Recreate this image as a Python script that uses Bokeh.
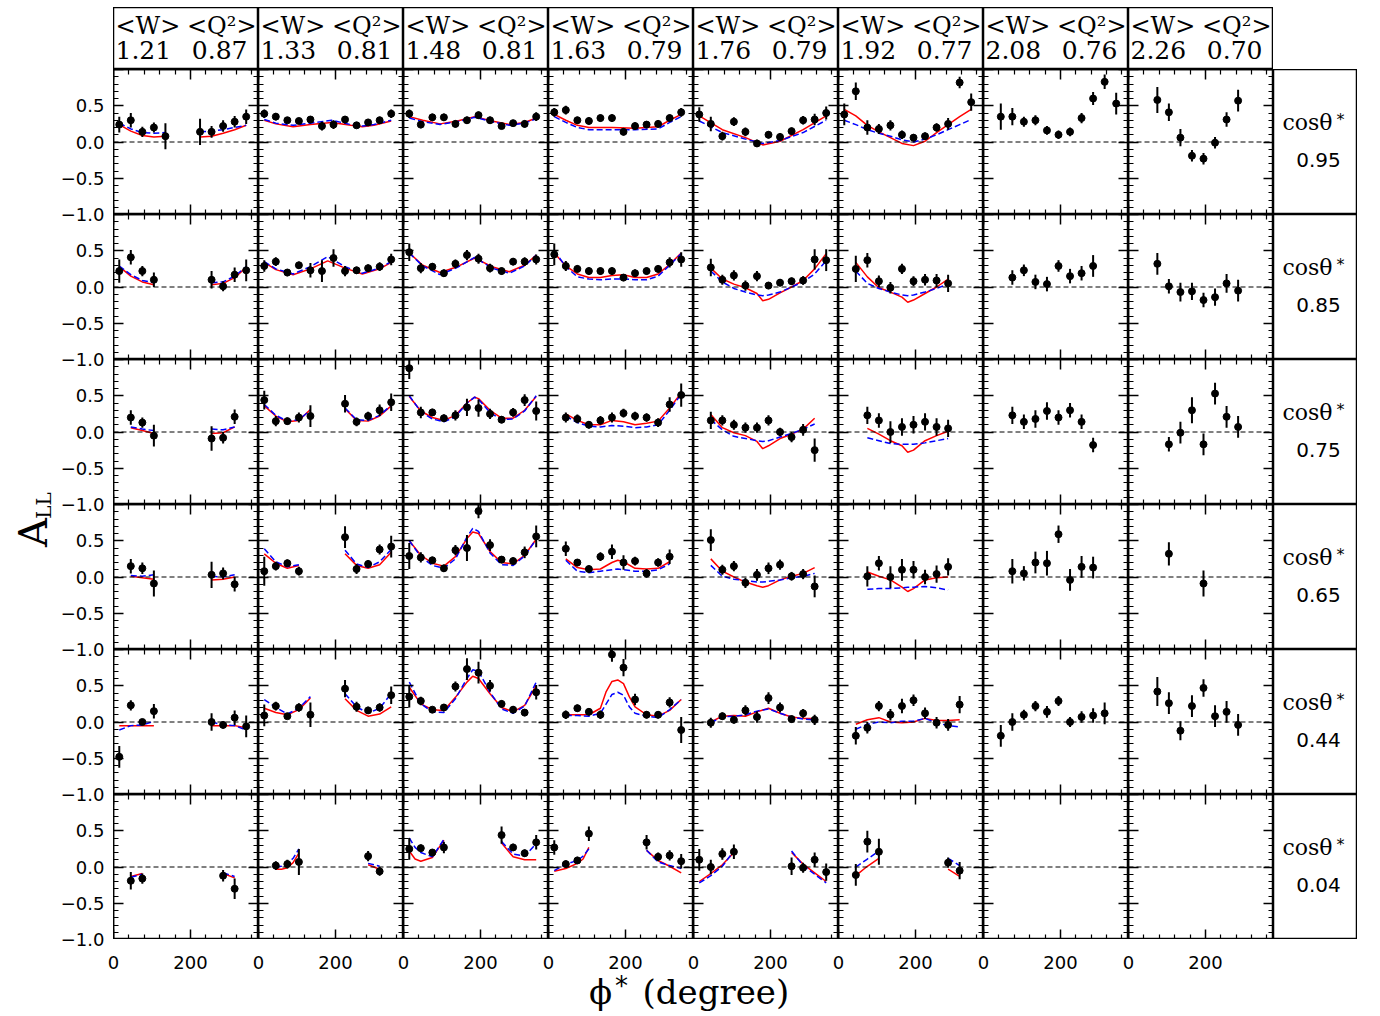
import numpy as np
from bokeh.plotting import figure
from bokeh.models import Range1d, LinearAxis, FixedTicker, Span, ColumnDataSource, Spacer, Grid
from bokeh.layouts import row, column
from bokeh.core.properties import value
from bokeh.embed import file_html
from bokeh.resources import INLINE

# ---------------- data ----------------
W_MEAN = [1.21, 1.33, 1.48, 1.63, 1.76, 1.92, 2.08, 2.26]
Q2_MEAN = [0.87, 0.81, 0.81, 0.79, 0.79, 0.77, 0.76, 0.70]
COS_THETA = [0.95, 0.85, 0.75, 0.65, 0.44, 0.04]

PHI_MAX = 377
X_MAJOR = [0, 200]
X_MINOR = [40, 80, 120, 160, 240, 280, 320, 360]
X_LABELS = {0: "0", 200: "200"}
Y_MAJOR = [-1.0, -0.5, 0.0, 0.5, 1.0]
Y_MINOR = [-0.9, -0.8, -0.7, -0.6, -0.4, -0.3, -0.2, -0.1,
           0.1, 0.2, 0.3, 0.4, 0.6, 0.7, 0.8, 0.9]
Y_LABELS = {-1.0: "\u22121.0", -0.5: "\u22120.5", 0.0: "0.0", 0.5: "0.5"}

# data points: phi (deg), A_LL, error, keyed by (row, column)
PT_PHI = {
    (0, 0): [15, 45, 75, 105, 135, 225, 255, 285, 315, 345],
    (0, 1): [15, 45, 75, 105, 135, 165, 195, 225, 255, 285, 315, 345],
    (0, 2): [15, 45, 75, 105, 135, 165, 195, 225, 255, 285, 315, 345],
    (0, 3): [15, 45, 75, 105, 135, 165, 195, 225, 255, 285, 315, 345],
    (0, 4): [15, 45, 75, 105, 135, 165, 195, 225, 255, 285, 315, 345],
    (0, 5): [15, 45, 75, 105, 135, 165, 195, 225, 255, 285, 315, 345],
    (0, 6): [45, 75, 105, 135, 165, 195, 225, 255, 285, 315, 345],
    (0, 7): [75, 105, 135, 165, 195, 225, 255, 285],
    (1, 0): [15, 45, 75, 105, 255, 285, 315, 345],
    (1, 1): [15, 45, 75, 105, 135, 165, 195, 225, 255, 285, 315, 345],
    (1, 2): [15, 45, 75, 105, 135, 165, 195, 225, 255, 285, 315, 345],
    (1, 3): [15, 45, 75, 105, 135, 165, 195, 225, 255, 285, 315, 345],
    (1, 4): [45, 75, 105, 135, 165, 195, 225, 255, 285, 315, 345],
    (1, 5): [45, 75, 105, 135, 165, 195, 225, 255, 285],
    (1, 6): [75, 105, 135, 165, 195, 225, 255, 285],
    (1, 7): [75, 105, 135, 165, 195, 225, 255, 285],
    (2, 0): [45, 75, 105, 255, 285, 315],
    (2, 1): [15, 45, 75, 105, 135, 225, 255, 285, 315, 345],
    (2, 2): [15, 45, 75, 105, 135, 165, 195, 225, 255, 285, 315, 345],
    (2, 3): [45, 75, 105, 135, 165, 195, 225, 255, 285, 315, 345],
    (2, 4): [45, 75, 105, 135, 165, 195, 225, 255, 285, 315],
    (2, 5): [75, 105, 135, 165, 195, 225, 255, 285],
    (2, 6): [75, 105, 135, 165, 195, 225, 255, 285],
    (2, 7): [105, 135, 165, 195, 225, 255, 285],
    (3, 0): [45, 75, 105, 255, 285, 315],
    (3, 1): [15, 45, 75, 105, 225, 255, 285, 315, 345],
    (3, 2): [15, 45, 75, 105, 135, 165, 195, 225, 255, 285, 315, 345],
    (3, 3): [45, 75, 105, 135, 165, 195, 225, 255, 285, 315],
    (3, 4): [45, 75, 105, 135, 165, 195, 225, 255, 285, 315],
    (3, 5): [75, 105, 135, 165, 195, 225, 255, 285],
    (3, 6): [75, 105, 135, 165, 195, 225, 255, 285],
    (3, 7): [105, 195],
    (4, 0): [15, 45, 75, 105, 255, 285, 315, 345],
    (4, 1): [15, 45, 75, 105, 135, 225, 255, 285, 315, 345],
    (4, 2): [15, 45, 75, 105, 135, 165, 195, 225, 255, 285, 315, 345],
    (4, 3): [45, 75, 105, 135, 165, 195, 225, 255, 285, 315, 345],
    (4, 4): [45, 75, 105, 135, 165, 195, 225, 255, 285, 315],
    (4, 5): [45, 75, 105, 135, 165, 195, 225, 255, 285, 315],
    (4, 6): [45, 75, 105, 135, 165, 195, 225, 255, 285, 315],
    (4, 7): [75, 105, 135, 165, 195, 225, 255, 285],
    (5, 0): [45, 75, 285, 315],
    (5, 1): [45, 75, 105, 285, 315],
    (5, 2): [15, 45, 75, 105, 255, 285, 315, 345],
    (5, 3): [15, 45, 75, 105, 255, 285, 315, 345],
    (5, 4): [15, 45, 75, 105, 255, 285, 315, 345],
    (5, 5): [45, 75, 105, 285, 315],
}
PT_A = {
    (0, 0): [0.24, 0.30, 0.14, 0.20, 0.08, 0.14, 0.14, 0.22, 0.28, 0.35],
    (0, 1): [0.39, 0.35, 0.30, 0.29, 0.31, 0.22, 0.24, 0.31, 0.23, 0.27, 0.30, 0.39],
    (0, 2): [0.39, 0.24, 0.34, 0.34, 0.25, 0.30, 0.37, 0.30, 0.22, 0.26, 0.25, 0.35],
    (0, 3): [0.41, 0.44, 0.30, 0.29, 0.33, 0.33, 0.14, 0.22, 0.24, 0.25, 0.33, 0.41],
    (0, 4): [0.38, 0.25, 0.08, 0.28, 0.14, -0.02, 0.10, 0.07, 0.15, 0.30, 0.31, 0.40],
    (0, 5): [0.38, 0.70, 0.20, 0.18, 0.23, 0.10, 0.06, 0.08, 0.20, 0.25, 0.82, 0.55],
    (0, 6): [0.35, 0.35, 0.28, 0.30, 0.16, 0.10, 0.14, 0.33, 0.60, 0.83, 0.53],
    (0, 7): [0.58, 0.41, 0.06, -0.19, -0.23, -0.01, 0.31, 0.57],
    (1, 0): [0.22, 0.41, 0.22, 0.10, 0.10, 0.01, 0.17, 0.23],
    (1, 1): [0.29, 0.35, 0.20, 0.30, 0.23, 0.22, 0.40, 0.22, 0.23, 0.26, 0.28, 0.38],
    (1, 2): [0.48, 0.26, 0.28, 0.19, 0.32, 0.44, 0.39, 0.26, 0.22, 0.35, 0.35, 0.38],
    (1, 3): [0.45, 0.29, 0.25, 0.22, 0.22, 0.22, 0.13, 0.19, 0.22, 0.25, 0.34, 0.38],
    (1, 4): [0.27, 0.10, 0.16, 0.02, 0.15, 0.02, 0.06, 0.08, 0.09, 0.38, 0.37],
    (1, 5): [0.25, 0.37, 0.08, -0.01, 0.25, 0.08, 0.10, 0.09, 0.05],
    (1, 6): [0.13, 0.23, 0.07, 0.04, 0.29, 0.15, 0.19, 0.29],
    (1, 7): [0.32, 0.01, -0.07, -0.06, -0.18, -0.14, 0.05, -0.05],
    (2, 0): [0.20, 0.13, -0.05, -0.09, -0.08, 0.21],
    (2, 1): [0.44, 0.15, 0.15, 0.20, 0.22, 0.39, 0.14, 0.22, 0.30, 0.41],
    (2, 2): [0.88, 0.27, 0.27, 0.19, 0.23, 0.34, 0.33, 0.25, 0.17, 0.27, 0.44, 0.29],
    (2, 3): [0.20, 0.18, 0.10, 0.16, 0.20, 0.26, 0.22, 0.20, 0.13, 0.38, 0.51],
    (2, 4): [0.16, 0.16, 0.10, 0.06, 0.06, 0.16, 0.00, -0.07, 0.03, -0.25],
    (2, 5): [0.23, 0.16, 0.00, 0.07, 0.10, 0.14, 0.07, 0.05],
    (2, 6): [0.23, 0.14, 0.18, 0.29, 0.20, 0.30, 0.14, -0.18],
    (2, 7): [-0.17, -0.01, 0.30, -0.17, 0.53, 0.21, 0.07],
    (3, 0): [0.15, 0.12, -0.09, 0.03, 0.05, -0.10],
    (3, 1): [0.08, 0.15, 0.19, 0.08, 0.55, 0.11, 0.18, 0.38, 0.42],
    (3, 2): [0.29, 0.27, 0.23, 0.12, 0.37, 0.40, 0.91, 0.44, 0.24, 0.22, 0.34, 0.56],
    (3, 3): [0.39, 0.20, 0.11, 0.28, 0.35, 0.20, 0.22, 0.05, 0.20, 0.28],
    (3, 4): [0.51, 0.10, 0.15, -0.08, 0.03, 0.12, 0.17, 0.01, 0.04, -0.13],
    (3, 5): [0.01, 0.19, 0.00, 0.10, 0.10, 0.00, 0.04, 0.14],
    (3, 6): [0.08, 0.05, 0.20, 0.19, 0.59, -0.04, 0.14, 0.13],
    (3, 7): [0.32, -0.09],
    (4, 0): [-0.48, 0.23, 0.00, 0.15, 0.00, -0.04, 0.06, -0.06],
    (4, 1): [0.09, 0.22, 0.08, 0.20, 0.10, 0.46, 0.21, 0.16, 0.20, 0.37],
    (4, 2): [0.35, 0.29, 0.17, 0.20, 0.49, 0.73, 0.68, 0.50, 0.25, 0.17, 0.13, 0.41],
    (4, 3): [0.10, 0.19, 0.14, 0.10, 0.93, 0.75, 0.31, 0.10, 0.10, 0.27, -0.11],
    (4, 4): [-0.01, 0.08, 0.03, 0.16, 0.07, 0.33, 0.20, 0.04, 0.12, 0.03],
    (4, 5): [-0.19, -0.08, 0.22, 0.10, 0.22, 0.30, 0.12, -0.01, -0.04, 0.24],
    (4, 6): [-0.19, 0.00, 0.10, 0.22, 0.14, 0.29, 0.00, 0.07, 0.09, 0.12],
    (4, 7): [0.42, 0.26, -0.12, 0.22, 0.47, 0.08, 0.14, -0.04],
    (5, 0): [-0.19, -0.16, -0.12, -0.30],
    (5, 1): [0.02, 0.04, 0.07, 0.15, -0.06],
    (5, 2): [0.25, 0.26, 0.20, 0.27, 0.44, 0.27, 0.19, 0.34],
    (5, 3): [0.27, 0.04, 0.09, 0.46, 0.34, 0.14, 0.16, 0.08],
    (5, 4): [0.10, 0.00, 0.18, 0.21, 0.01, -0.01, 0.10, -0.07],
    (5, 5): [-0.11, 0.35, 0.21, 0.06, -0.05],
}
PT_ERR = {
    (0, 0): [0.11, 0.10, 0.07, 0.07, 0.18, 0.18, 0.08, 0.08, 0.08, 0.10],
    (0, 1): [0.06, 0.05, 0.04, 0.04, 0.05, 0.06, 0.06, 0.05, 0.04, 0.04, 0.05, 0.06],
    (0, 2): [0.06, 0.05, 0.05, 0.05, 0.05, 0.05, 0.05, 0.05, 0.04, 0.04, 0.05, 0.06],
    (0, 3): [0.06, 0.06, 0.05, 0.05, 0.05, 0.05, 0.05, 0.05, 0.05, 0.05, 0.05, 0.06],
    (0, 4): [0.10, 0.10, 0.06, 0.06, 0.06, 0.05, 0.05, 0.05, 0.05, 0.06, 0.08, 0.09],
    (0, 5): [0.15, 0.12, 0.10, 0.07, 0.07, 0.06, 0.05, 0.05, 0.06, 0.08, 0.08, 0.12],
    (0, 6): [0.18, 0.12, 0.07, 0.07, 0.06, 0.06, 0.06, 0.07, 0.09, 0.10, 0.15],
    (0, 7): [0.18, 0.12, 0.12, 0.08, 0.08, 0.08, 0.10, 0.15],
    (1, 0): [0.16, 0.10, 0.07, 0.10, 0.12, 0.07, 0.10, 0.15],
    (1, 1): [0.08, 0.06, 0.05, 0.05, 0.10, 0.15, 0.12, 0.07, 0.05, 0.05, 0.06, 0.08],
    (1, 2): [0.12, 0.07, 0.05, 0.05, 0.06, 0.07, 0.07, 0.06, 0.05, 0.05, 0.06, 0.07],
    (1, 3): [0.15, 0.07, 0.05, 0.05, 0.05, 0.05, 0.05, 0.05, 0.05, 0.05, 0.07, 0.10],
    (1, 4): [0.12, 0.07, 0.07, 0.07, 0.07, 0.05, 0.05, 0.05, 0.06, 0.14, 0.15],
    (1, 5): [0.18, 0.10, 0.08, 0.08, 0.07, 0.07, 0.08, 0.09, 0.12],
    (1, 6): [0.10, 0.08, 0.10, 0.10, 0.08, 0.10, 0.10, 0.15],
    (1, 7): [0.15, 0.10, 0.13, 0.12, 0.10, 0.12, 0.13, 0.15],
    (2, 0): [0.10, 0.07, 0.15, 0.17, 0.08, 0.10],
    (2, 1): [0.13, 0.07, 0.05, 0.07, 0.15, 0.12, 0.06, 0.06, 0.08, 0.12],
    (2, 2): [0.15, 0.08, 0.05, 0.05, 0.07, 0.12, 0.12, 0.07, 0.05, 0.06, 0.08, 0.13],
    (2, 3): [0.07, 0.06, 0.05, 0.06, 0.07, 0.06, 0.06, 0.06, 0.06, 0.10, 0.16],
    (2, 4): [0.12, 0.07, 0.07, 0.07, 0.07, 0.07, 0.06, 0.07, 0.08, 0.16],
    (2, 5): [0.12, 0.10, 0.15, 0.12, 0.12, 0.12, 0.12, 0.12],
    (2, 6): [0.12, 0.10, 0.12, 0.12, 0.10, 0.10, 0.10, 0.10],
    (2, 7): [0.10, 0.15, 0.18, 0.15, 0.15, 0.15, 0.15],
    (3, 0): [0.10, 0.08, 0.18, 0.18, 0.08, 0.10],
    (3, 1): [0.20, 0.06, 0.05, 0.06, 0.15, 0.07, 0.05, 0.07, 0.15],
    (3, 2): [0.18, 0.07, 0.05, 0.05, 0.07, 0.18, 0.10, 0.08, 0.05, 0.05, 0.08, 0.15],
    (3, 3): [0.10, 0.05, 0.05, 0.06, 0.10, 0.10, 0.06, 0.06, 0.06, 0.10],
    (3, 4): [0.15, 0.07, 0.07, 0.07, 0.08, 0.08, 0.07, 0.06, 0.07, 0.15],
    (3, 5): [0.14, 0.10, 0.15, 0.15, 0.12, 0.10, 0.12, 0.12],
    (3, 6): [0.17, 0.10, 0.15, 0.17, 0.12, 0.15, 0.15, 0.15],
    (3, 7): [0.16, 0.18],
    (4, 0): [0.15, 0.07, 0.04, 0.10, 0.12, 0.05, 0.10, 0.15],
    (4, 1): [0.15, 0.06, 0.04, 0.06, 0.17, 0.12, 0.07, 0.05, 0.06, 0.12],
    (4, 2): [0.15, 0.06, 0.04, 0.05, 0.07, 0.15, 0.15, 0.08, 0.05, 0.05, 0.05, 0.10],
    (4, 3): [0.06, 0.05, 0.05, 0.06, 0.10, 0.12, 0.08, 0.05, 0.05, 0.07, 0.18],
    (4, 4): [0.07, 0.05, 0.05, 0.07, 0.08, 0.08, 0.07, 0.05, 0.06, 0.07],
    (4, 5): [0.12, 0.08, 0.07, 0.08, 0.10, 0.08, 0.08, 0.08, 0.08, 0.12],
    (4, 6): [0.15, 0.12, 0.07, 0.07, 0.08, 0.07, 0.07, 0.08, 0.10, 0.15],
    (4, 7): [0.20, 0.15, 0.13, 0.15, 0.12, 0.15, 0.15, 0.15],
    (5, 0): [0.12, 0.07, 0.08, 0.14],
    (5, 1): [0.06, 0.06, 0.18, 0.07, 0.06],
    (5, 2): [0.15, 0.05, 0.05, 0.08, 0.12, 0.05, 0.05, 0.10],
    (5, 3): [0.10, 0.05, 0.05, 0.10, 0.10, 0.06, 0.07, 0.10],
    (5, 4): [0.15, 0.10, 0.08, 0.10, 0.12, 0.07, 0.10, 0.12],
    (5, 5): [0.15, 0.15, 0.18, 0.07, 0.12],
}

# model curves (None = gap): phi knots, red solid model, blue dashed model
CV_PHI = {
    (0, 0): [15, 45, 75, 105, 135, None, 225, 255, 285, 315, 345],
    (0, 1): [15, 45, 90, 135, 190, 240, 270, 300, 345],
    (0, 2): [15, 50, 95, 140, 185, 230, 275, 315, 345],
    (0, 3): [15, 45, 75, 105, 165, 225, 285, 315, 345],
    (0, 4): [15, 75, 135, 180, 225, 285, 345],
    (0, 5): [15, 45, 75, 105, 135, 165, 195, 225, 255, 285, 315, 345],
    (1, 0): [15, 45, 75, 105, None, 255, 285, 315, 345],
    (1, 1): [15, 45, 90, 135, 180, 225, 270, 315, 345],
    (1, 2): [15, 50, 95, 140, 185, 230, 275, 315, 345],
    (1, 3): [15, 45, 75, 105, 135, 165, 195, 225, 255, 285, 315, 345],
    (1, 4): [45, 75, 105, 135, 165, 180, 195, 225, 255, 285, 315, 345],
    (1, 5): [45, 75, 105, 135, 165, 180, 195, 225, 255, 285],
    (2, 0): [45, 75, 105, None, 255, 285, 315],
    (2, 1): [15, 45, 75, 105, 135, None, 225, 255, 285, 315, 345],
    (2, 2): [15, 45, 75, 105, 135, 165, 185, 195, 225, 255, 285, 315, 345],
    (2, 3): [45, 75, 105, 135, 165, 195, 225, 255, 285, 315, 345],
    (2, 4): [45, 75, 105, 135, 165, 180, 195, 225, 255, 285, 315],
    (2, 5): [75, 105, 135, 165, 180, 195, 225, 255, 285],
    (3, 0): [45, 75, 105, None, 255, 285, 315],
    (3, 1): [15, 45, 75, 105, None, 225, 255, 285, 315, 345],
    (3, 2): [15, 45, 75, 105, 135, 165, 180, 195, 225, 255, 285, 315, 345],
    (3, 3): [45, 75, 105, 135, 165, 180, 195, 225, 255, 285, 315],
    (3, 4): [45, 75, 105, 135, 165, 180, 195, 225, 255, 285, 315],
    (3, 5): [75, 105, 135, 165, 180, 195, 225, 255, 285],
    (4, 0): [15, 45, 75, 105, None, 255, 285, 315, 345],
    (4, 1): [15, 45, 75, 105, 135, None, 225, 255, 285, 315, 345],
    (4, 2): [15, 45, 75, 105, 135, 165, 180, 195, 225, 255, 285, 315, 345],
    (4, 3): [45, 75, 105, 135, 150, 165, 180, 195, 210, 225, 255, 285, 315, 345],
    (4, 4): [45, 75, 105, 135, 165, 195, 225, 255, 285, 315],
    (4, 5): [45, 75, 105, 135, 165, 195, 225, 255, 285, 315],
    (5, 0): [45, 75, None, 285, 315],
    (5, 1): [45, 60, 75, 90, 105, None, 285, 315],
    (5, 2): [15, 30, 45, 75, 105, None, 255, 285, 315, 345],
    (5, 3): [15, 45, 75, 90, 105, None, 255, 285, 315, 345],
    (5, 4): [15, 45, 75, 105, None, 255, 285, 315, 345],
    (5, 5): [45, 75, 105, None, 285, 315],
}
CV_RED = {
    (0, 0): [0.24, 0.15, 0.09, 0.07, 0.08, None, 0.07, 0.08, 0.12, 0.17, 0.23],
    (0, 1): [0.30, 0.25, 0.21, 0.24, 0.27, 0.23, 0.21, 0.23, 0.29],
    (0, 2): [0.35, 0.30, 0.25, 0.29, 0.35, 0.29, 0.24, 0.27, 0.33],
    (0, 3): [0.38, 0.30, 0.23, 0.20, 0.20, 0.19, 0.21, 0.30, 0.38],
    (0, 4): [0.36, 0.17, 0.06, -0.04, 0.01, 0.17, 0.36],
    (0, 5): [0.45, 0.36, 0.23, 0.14, 0.06, -0.02, -0.05, 0.01, 0.13, 0.24, 0.35, 0.45],
    (1, 0): [0.28, 0.15, 0.07, 0.03, None, 0.03, 0.05, 0.13, 0.27],
    (1, 1): [0.34, 0.24, 0.17, 0.25, 0.36, 0.26, 0.18, 0.25, 0.34],
    (1, 2): [0.47, 0.30, 0.20, 0.28, 0.40, 0.28, 0.21, 0.30, 0.44],
    (1, 3): [0.47, 0.29, 0.18, 0.13, 0.13, 0.16, 0.17, 0.13, 0.13, 0.18, 0.31, 0.47],
    (1, 4): [0.26, 0.11, 0.04, -0.01, -0.09, -0.19, -0.17, -0.08, 0.00, 0.09, 0.25, 0.46],
    (1, 5): [0.34, 0.14, -0.01, -0.07, -0.14, -0.21, -0.18, -0.09, 0.00, 0.11],
    (2, 0): [0.06, 0.02, -0.02, None, -0.02, -0.01, 0.07],
    (2, 1): [0.36, 0.22, 0.14, 0.16, 0.31, None, 0.32, 0.16, 0.15, 0.22, 0.36],
    (2, 2): [0.49, 0.29, 0.20, 0.16, 0.23, 0.40, 0.48, 0.46, 0.30, 0.19, 0.19, 0.30, 0.49],
    (2, 3): [0.25, 0.16, 0.10, 0.10, 0.16, 0.14, 0.10, 0.12, 0.15, 0.33, 0.54],
    (2, 4): [0.24, 0.06, -0.01, -0.05, -0.13, -0.23, -0.19, -0.09, -0.03, 0.04, 0.19],
    (2, 5): [0.05, -0.03, -0.12, -0.19, -0.28, -0.25, -0.12, -0.05, 0.01],
    (3, 0): [0.01, -0.01, -0.03, None, -0.04, -0.03, 0.00],
    (3, 1): [0.32, 0.19, 0.12, 0.16, None, 0.32, 0.16, 0.12, 0.17, 0.34],
    (3, 2): [0.50, 0.30, 0.19, 0.15, 0.28, 0.53, 0.62, 0.60, 0.35, 0.20, 0.18, 0.30, 0.52],
    (3, 3): [0.25, 0.13, 0.10, 0.11, 0.20, 0.23, 0.21, 0.12, 0.11, 0.12, 0.21],
    (3, 4): [0.25, 0.08, 0.00, -0.07, -0.12, -0.14, -0.12, -0.04, 0.01, 0.05, 0.13],
    (3, 5): [0.07, 0.01, -0.04, -0.14, -0.20, -0.16, -0.04, -0.01, 0.00],
    (4, 0): [-0.05, -0.05, -0.05, -0.05, None, -0.05, -0.05, -0.05, -0.08],
    (4, 1): [0.19, 0.13, 0.10, 0.17, 0.33, None, 0.32, 0.16, 0.08, 0.11, 0.21],
    (4, 2): [0.48, 0.25, 0.17, 0.16, 0.34, 0.55, 0.63, 0.60, 0.39, 0.20, 0.14, 0.23, 0.50],
    (4, 3): [0.10, 0.10, 0.10, 0.19, 0.42, 0.56, 0.58, 0.53, 0.35, 0.21, 0.10, 0.08, 0.16, 0.31],
    (4, 4): [0.00, 0.08, 0.09, 0.08, 0.14, 0.19, 0.12, 0.07, 0.05, 0.05],
    (4, 5): [-0.03, 0.03, 0.06, 0.00, -0.01, 0.00, 0.05, 0.02, 0.02, 0.03],
    (5, 0): [-0.13, -0.09, None, -0.09, -0.15],
    (5, 1): [-0.03, -0.03, -0.01, 0.06, 0.19, None, 0.03, -0.03],
    (5, 2): [0.22, 0.11, 0.08, 0.13, 0.37, None, 0.33, 0.14, 0.10, 0.10],
    (5, 3): [-0.06, -0.02, 0.05, 0.11, 0.27, None, 0.23, 0.09, 0.01, -0.08],
    (5, 4): [-0.20, -0.09, 0.03, 0.20, None, 0.20, 0.04, -0.08, -0.20],
    (5, 5): [-0.12, 0.01, 0.12, None, -0.03, -0.13],
}
CV_BLUE = {
    (0, 0): [0.26, 0.18, 0.13, 0.12, 0.13, None, 0.14, 0.15, 0.17, 0.20, 0.23],
    (0, 1): [0.31, 0.26, 0.23, 0.26, 0.30, 0.24, 0.22, 0.24, 0.30],
    (0, 2): [0.33, 0.28, 0.24, 0.28, 0.34, 0.28, 0.23, 0.26, 0.32],
    (0, 3): [0.35, 0.27, 0.20, 0.17, 0.17, 0.17, 0.18, 0.27, 0.35],
    (0, 4): [0.29, 0.13, 0.04, -0.02, 0.02, 0.13, 0.30],
    (0, 5): [0.30, 0.24, 0.17, 0.12, 0.08, 0.03, 0.00, 0.04, 0.10, 0.17, 0.24, 0.31],
    (1, 0): [0.29, 0.17, 0.09, 0.06, None, 0.06, 0.07, 0.15, 0.28],
    (1, 1): [0.35, 0.25, 0.18, 0.28, 0.42, 0.28, 0.19, 0.26, 0.35],
    (1, 2): [0.47, 0.29, 0.17, 0.27, 0.41, 0.26, 0.19, 0.29, 0.44],
    (1, 3): [0.50, 0.28, 0.14, 0.11, 0.10, 0.11, 0.11, 0.10, 0.10, 0.15, 0.30, 0.46],
    (1, 4): [0.22, 0.07, -0.02, -0.07, -0.11, -0.12, -0.11, -0.07, 0.00, 0.07, 0.18, 0.36],
    (1, 5): [0.22, 0.05, -0.02, -0.07, -0.11, -0.12, -0.11, -0.07, -0.02, 0.04],
    (2, 0): [0.07, 0.04, 0.02, None, 0.04, 0.03, 0.07],
    (2, 1): [0.38, 0.23, 0.15, 0.17, 0.30, None, 0.33, 0.17, 0.16, 0.23, 0.37],
    (2, 2): [0.50, 0.28, 0.18, 0.14, 0.21, 0.40, 0.48, 0.45, 0.27, 0.17, 0.18, 0.29, 0.50],
    (2, 3): [0.22, 0.13, 0.08, 0.07, 0.09, 0.08, 0.06, 0.07, 0.10, 0.30, 0.52],
    (2, 4): [0.17, 0.03, -0.06, -0.09, -0.12, -0.13, -0.12, -0.07, -0.02, 0.04, 0.11],
    (2, 5): [-0.08, -0.12, -0.16, -0.17, -0.17, -0.17, -0.15, -0.12, -0.09],
    (3, 0): [0.02, 0.01, 0.03, None, 0.01, 0.00, 0.03],
    (3, 1): [0.39, 0.21, 0.14, 0.17, None, 0.37, 0.18, 0.13, 0.21, 0.38],
    (3, 2): [0.50, 0.28, 0.16, 0.12, 0.25, 0.55, 0.67, 0.63, 0.33, 0.17, 0.16, 0.29, 0.52],
    (3, 3): [0.23, 0.08, 0.06, 0.08, 0.10, 0.11, 0.10, 0.08, 0.08, 0.10, 0.18],
    (3, 4): [0.16, 0.01, -0.03, -0.05, -0.07, -0.07, -0.06, -0.04, -0.01, 0.01, 0.05],
    (3, 5): [-0.17, -0.16, -0.16, -0.15, -0.14, -0.14, -0.13, -0.15, -0.18],
    (4, 0): [-0.11, -0.05, -0.04, 0.01, None, 0.00, -0.04, -0.05, -0.11],
    (4, 1): [0.31, 0.20, 0.11, 0.19, 0.35, None, 0.39, 0.21, 0.12, 0.19, 0.39],
    (4, 2): [0.55, 0.25, 0.14, 0.13, 0.32, 0.60, 0.72, 0.70, 0.41, 0.18, 0.12, 0.22, 0.55],
    (4, 3): [0.09, 0.09, 0.08, 0.12, 0.25, 0.38, 0.41, 0.37, 0.21, 0.12, 0.08, 0.06, 0.17, 0.31],
    (4, 4): [-0.01, 0.07, 0.08, 0.10, 0.15, 0.18, 0.12, 0.07, 0.04, 0.03],
    (4, 5): [-0.10, -0.03, 0.00, -0.01, 0.01, 0.01, 0.05, -0.01, -0.05, -0.07],
    (5, 0): [-0.14, -0.10, None, -0.08, -0.13],
    (5, 1): [0.00, 0.01, 0.05, 0.12, 0.25, None, 0.05, 0.01],
    (5, 2): [0.40, 0.27, 0.20, 0.14, 0.38, None, 0.35, 0.18, 0.15, 0.32],
    (5, 3): [-0.05, 0.04, 0.09, 0.15, 0.25, None, 0.23, 0.07, 0.02, -0.02],
    (5, 4): [-0.22, -0.12, 0.01, 0.22, None, 0.22, 0.02, -0.10, -0.22],
    (5, 5): [0.00, 0.11, 0.22, None, 0.12, 0.02],
}

# ---------------- layout constants ----------------
FW, FH = 145, 145          # panel frame size
TOP_PAD = 7
HEAD_H = 62                # header box height
SIDE_W = 84                # right label box width
YLAB_W = 57                # width of the A_LL label strip
LEFT_B = 56                # width of the y tick-label strip
YAX_PAD = 11               # room below the y strip for the last label
XLAB_H = 40
TICK_FONT = "DejaVu Sans"
SERIF = "DejaVu Serif"
NROWS, NCOLS = 6, 8
GRID_X0 = YLAB_W + LEFT_B  # page x of the first panel frame


def no_grid(p):
    p.center = [m for m in p.center if not isinstance(m, Grid)]


def base_fig(w, h, xr, yr):
    p = figure(frame_width=w, frame_height=h, x_range=Range1d(*xr), y_range=Range1d(*yr),
               x_axis_location=None, y_axis_location=None, toolbar_location=None,
               output_backend="svg", min_border=0)
    no_grid(p)
    p.background_fill_color = "white"
    p.border_fill_color = "white"
    return p


def add_text(p, x, y, txt, font, size, align="center", angle=0.0):
    p.text(x=[x], y=[y], text=[txt], angle=angle, text_font=value(font), text_font_size=size,
           text_align=align, text_baseline="middle", text_color="black")


def add_axis(p, side, ticks, minor):
    ax = LinearAxis(ticker=FixedTicker(ticks=ticks, minor_ticks=minor))
    ax.axis_line_color = "black"
    ax.axis_line_width = 1.5
    ax.major_tick_line_color = "black"
    ax.major_tick_line_width = 1.5
    ax.minor_tick_line_color = "black"
    ax.minor_tick_line_width = 1.2
    ax.major_tick_in = 10
    ax.major_tick_out = 0
    ax.minor_tick_in = 5
    ax.minor_tick_out = 0
    ax.major_label_overrides = {t: "" for t in ticks}
    ax.major_label_text_font_size = "0px"
    ax.major_label_standoff = 0
    p.add_layout(ax, side)


def label_axis(p, side, ticks, labels, standoff):
    # axis that only carries tick labels (no line, no ticks)
    ax = LinearAxis(ticker=FixedTicker(ticks=ticks, minor_ticks=[]))
    ax.axis_line_color = None
    ax.major_tick_line_color = None
    ax.minor_tick_line_color = None
    ax.major_tick_in = 0
    ax.major_tick_out = 0
    ax.major_label_overrides = labels
    ax.major_label_text_font = TICK_FONT
    ax.major_label_text_font_size = "18px"
    ax.major_label_text_color = "black"
    ax.major_label_standoff = standoff
    p.add_layout(ax, side)


def make_panel(r, c):
    p = base_fig(FW, FH, (0, PHI_MAX), (-1, 1))
    p.outline_line_color = "black"
    p.outline_line_width = 1.5
    key = (r, c)
    if key in CV_PHI:
        xs = np.array(CV_PHI[key], dtype=float)
        p.line(xs, np.array(CV_RED[key], dtype=float), line_color="#ff0000", line_width=1.5)
        p.line(xs, np.array(CV_BLUE[key], dtype=float), line_color="#0000ff",
               line_width=1.5, line_dash="6 3")
    p.add_layout(Span(location=0, dimension="width", line_color="black",
                      line_width=1, line_dash="5 3"))
    if key in PT_PHI:
        a = np.array(PT_A[key])
        e = np.array(PT_ERR[key])
        src = ColumnDataSource(dict(x=PT_PHI[key], y=a, lo=a - e, hi=a + e))
        p.segment(x0="x", y0="lo", x1="x", y1="hi", source=src, line_color="black", line_width=2)
        p.scatter("x", "y", source=src, size=7, color="black")
    add_axis(p, "left", Y_MAJOR, Y_MINOR)
    add_axis(p, "right", Y_MAJOR, Y_MINOR)
    add_axis(p, "above", X_MAJOR, X_MINOR)
    add_axis(p, "below", X_MAJOR, X_MINOR)
    return p


def make_header(c):
    p = base_fig(FW, HEAD_H, (0, FW), (0, HEAD_H))
    p.outline_line_color = "black"
    p.outline_line_width = 1.5
    add_text(p, 2, 44, "<W>", SERIF, "24px", "left")
    add_text(p, 143, 44, "<Q\u00b2>", SERIF, "24px", "right")
    add_text(p, 2, 20, f"{W_MEAN[c]:.2f}", SERIF, "25px", "left")
    add_text(p, 134, 20, f"{Q2_MEAN[c]:.2f}", SERIF, "25px", "right")
    return p


def make_side(r):
    p = base_fig(SIDE_W, FH, (0, SIDE_W), (0, FH))
    p.outline_line_color = "black"
    p.outline_line_width = 1.5
    add_text(p, 34, 92, "cos\u03b8", SERIF, "22px")
    add_text(p, 67, 95, "*", TICK_FONT, "16px")
    add_text(p, 45, 55, f"{COS_THETA[r]:.2f}", TICK_FONT, "20px")
    return p


# A_LL label strip
ylab = base_fig(YLAB_W, NROWS * FH, (0, YLAB_W), (0, NROWS * FH))
ylab.outline_line_color = None
add_text(ylab, 32, 407, "A", SERIF, "40px", angle=np.pi / 2)
add_text(ylab, 43, 434, "LL", SERIF, "20px", angle=np.pi / 2)

# y tick-label strip: every row spans 2 units (A_LL from -1 to 1)
Y_SPAN = Y_MAJOR[-1] - Y_MAJOR[0]
y_ticks, y_labels = [], {}
for k in range(NROWS):
    for t in Y_MAJOR[:-1]:
        pos = k * Y_SPAN + (t - Y_MAJOR[0])
        y_ticks.append(pos)
        y_labels[pos] = Y_LABELS[t]
yax = base_fig(1, NROWS * FH, (0, 1), (0, NROWS * Y_SPAN))
yax.min_border_left = LEFT_B - 1
yax.min_border_bottom = YAX_PAD
yax.outline_line_color = None
label_axis(yax, "left", y_ticks, y_labels, standoff=8)

# x tick-label strip: every column spans PHI_MAX degrees
x_ticks, x_labels = [], {}
for c in range(NCOLS):
    for t in X_MAJOR:
        pos = c * PHI_MAX + t
        x_ticks.append(pos)
        x_labels[pos] = X_LABELS[t]
xax = base_fig(NCOLS * FW, 1, (0, NCOLS * PHI_MAX), (0, 1))
xax.min_border_left = GRID_X0
xax.min_border_right = SIDE_W
xax.outline_line_color = None
label_axis(xax, "below", x_ticks, x_labels, standoff=4)

# phi* (degree) label strip (page-pixel coordinates, same borders as the x strip)
TOTAL_W = GRID_X0 + NCOLS * FW + SIDE_W
xlab = base_fig(NCOLS * FW, XLAB_H, (GRID_X0, GRID_X0 + NCOLS * FW), (0, XLAB_H))
xlab.min_border_left = GRID_X0
xlab.min_border_right = SIDE_W
xlab.outline_line_color = None
add_text(xlab, 600, 20, "\u03d5", SERIF, "34px")
add_text(xlab, 621, 26, "*", TICK_FONT, "26px")
add_text(xlab, 642, 20, "(degree)", SERIF, "34px", "left")

header_row = row(Spacer(width=GRID_X0, height=HEAD_H),
                 *[make_header(c) for c in range(NCOLS)])
panel_rows = [row(*[make_panel(r, c) for c in range(NCOLS)], make_side(r)) for r in range(NROWS)]
layout = column(Spacer(width=TOTAL_W, height=TOP_PAD), header_row,
                row(ylab, yax, column(*panel_rows)), xax, xlab)

open("out.html", "w").write(file_html(layout, INLINE))
